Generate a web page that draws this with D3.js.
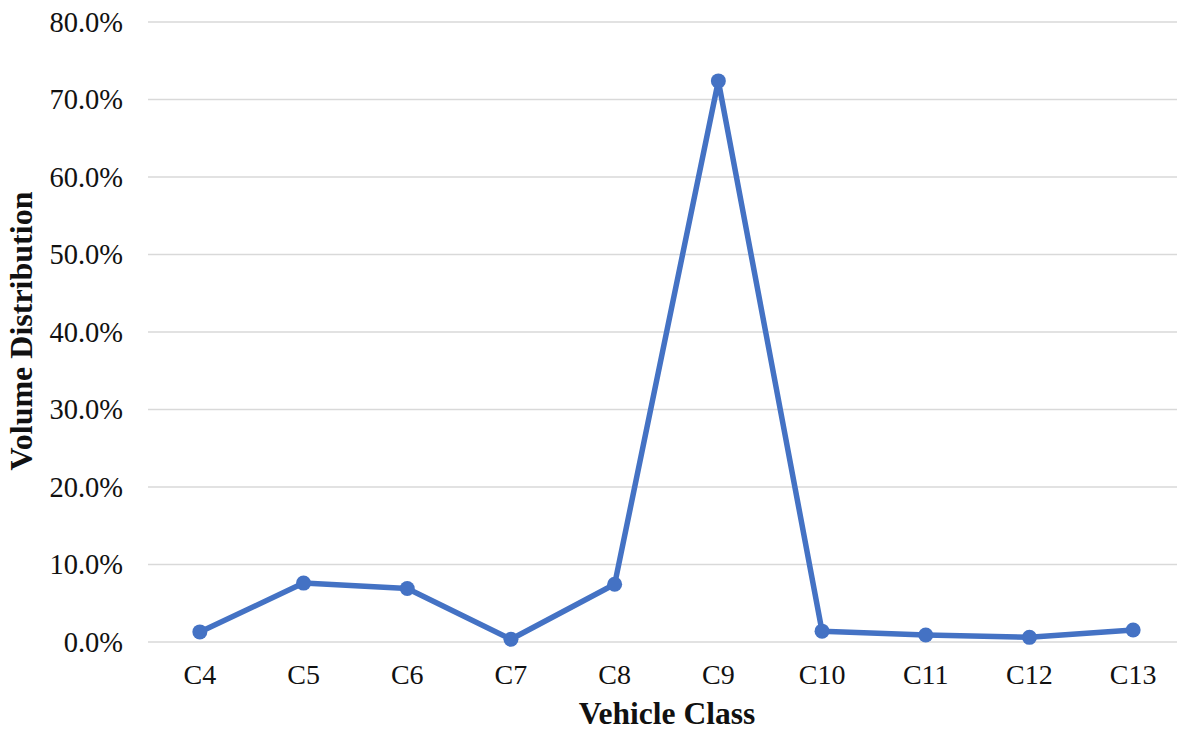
<!DOCTYPE html>
<html><head><meta charset="utf-8">
<script src="https://cdn.jsdelivr.net/npm/d3@7"></script>
<style>body{margin:0;background:#fff}svg{display:block}</style>
</head><body>
<svg id="c" width="1177" height="732"></svg>
<script>
const categories = ["C4","C5","C6","C7","C8","C9","C10","C11","C12","C13"];
const values = [1.3, 7.6, 6.9, 0.35, 7.45, 72.4, 1.4, 0.9, 0.6, 1.55];
const yTicks = [0,10,20,30,40,50,60,70,80];

(function(){
const svg = d3.select("#c");
const mLeft = 148, mRight = 1185, mTop = 22, mBottom = 642;
const x = d3.scaleBand().domain(categories).range([mLeft, mRight]);
const y = d3.scaleLinear().domain([0,80]).range([mBottom, mTop]);
const font = "'Liberation Serif','Times New Roman',serif";

svg.append("g").selectAll("line").data(yTicks).join("line")
  .attr("x1", mLeft).attr("x2", mRight)
  .attr("y1", d=>y(d)).attr("y2", d=>y(d))
  .attr("stroke", "#d9d9d9").attr("stroke-width", 1.5);

const yAxis = svg.append("g").attr("transform", `translate(${mLeft},0)`)
  .call(d3.axisLeft(y).tickValues(yTicks).tickSize(0).tickPadding(25).tickFormat(d=>d3.format(".1f")(d)+"%"));
yAxis.select(".domain").remove();
yAxis.selectAll("text").attr("font-family", font).attr("font-size", 28.5).attr("fill", "#111");

const xAxis = svg.append("g").attr("transform", `translate(0,${mBottom})`)
  .call(d3.axisBottom(x).tickSize(0).tickPadding(22));
xAxis.select(".domain").remove();
xAxis.selectAll("text").attr("font-family", font).attr("font-size", 28).attr("fill", "#111");

const cx = d => x(d) + x.bandwidth()/2;
const data = categories.map((c,i)=>({c, v: values[i]}));
svg.append("path").datum(data)
  .attr("fill","none").attr("stroke","#4472C4").attr("stroke-width",5.5).attr("stroke-linejoin","round")
  .attr("d", d3.line().x(d=>cx(d.c)).y(d=>y(d.v)));
svg.append("g").selectAll("circle").data(data).join("circle")
  .attr("cx", d=>cx(d.c)).attr("cy", d=>y(d.v)).attr("r", 7.5).attr("fill","#4472C4");

svg.append("text").attr("x", 667).attr("y", 724).attr("text-anchor","middle")
  .attr("font-family", font).attr("font-weight","bold").attr("font-size", 31.5).attr("fill","#111")
  .text("Vehicle Class");
svg.append("text").attr("transform","translate(32,331) rotate(-90)").attr("text-anchor","middle")
  .attr("font-family", font).attr("font-weight","bold").attr("font-size", 32).attr("fill","#111")
  .text("Volume Distribution");
})();
</script>
</body></html>
